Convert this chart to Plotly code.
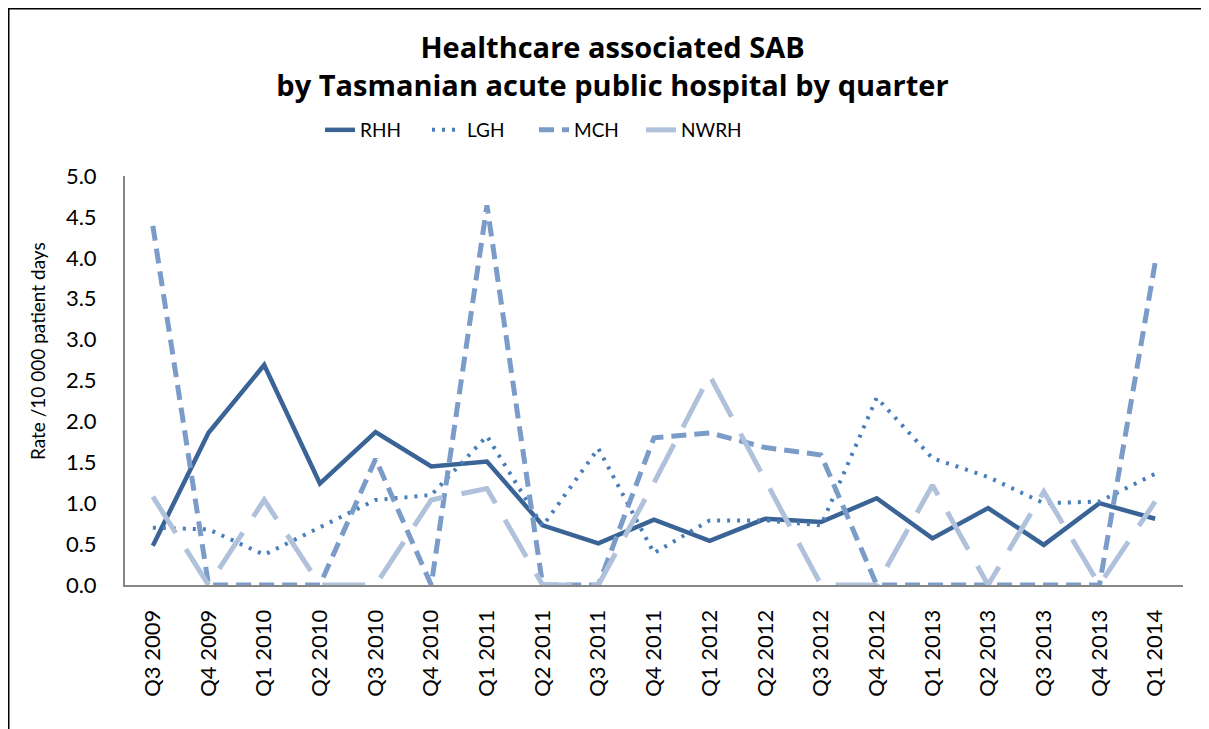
import plotly.graph_objects as go

quarters = ["Q3 2009", "Q4 2009", "Q1 2010", "Q2 2010", "Q3 2010", "Q4 2010",
            "Q1 2011", "Q2 2011", "Q3 2011", "Q4 2011", "Q1 2012", "Q2 2012",
            "Q3 2012", "Q4 2012", "Q1 2013", "Q2 2013", "Q3 2013", "Q4 2013",
            "Q1 2014"]

rhh = [0.48, 1.86, 2.69, 1.24, 1.87, 1.45, 1.51, 0.73, 0.51, 0.80, 0.54, 0.81,
       0.77, 1.06, 0.57, 0.94, 0.49, 1.00, 0.81]
lgh = [0.70, 0.68, 0.37, 0.71, 1.04, 1.10, 1.82, 0.72, 1.67, 0.39, 0.79, 0.79,
       0.73, 2.29, 1.55, 1.32, 1.00, 1.02, 1.36]
mch = [4.39, 0.0, 0.0, 0.0, 1.54, 0.0, 4.64, 0.0, 0.0, 1.80, 1.86, 1.68,
       1.59, 0.0, 0.0, 0.0, 0.0, 0.0, 3.94]
nwrh = [1.08, 0.0, 1.04, 0.0, 0.0, 1.04, 1.18, 0.0, 0.0, 1.25, 2.56, 1.28,
        0.0, 0.0, 1.22, 0.0, 1.14, 0.0, 1.02]

y_ticks = [0.0, 0.5, 1.0, 1.5, 2.0, 2.5, 3.0, 3.5, 4.0, 4.5, 5.0]

FONT = "Lato"
TFONT = "Open Sans"

fig = go.Figure()
fig.add_trace(go.Scatter(x=quarters, y=rhh, name="RHH", mode="lines",
                         line=dict(color="#3B6496", width=4.5)))
fig.add_trace(go.Scatter(x=quarters, y=lgh, name="LGH", mode="lines",
                         line=dict(color="#4A7EBB", width=4, dash="3px,7px")))
fig.add_trace(go.Scatter(x=quarters, y=mch, name="MCH", mode="lines",
                         line=dict(color="#7B9CC9", width=5, dash="15px,8px")))
fig.add_trace(go.Scatter(x=quarters, y=nwrh, name="NWRH", mode="lines",
                         line=dict(color="#B0C1DC", width=5, dash="43px,19px")))

OFF = 8  # page body margin
W, H = 1209, 729
# plot area in page pixels: x 125..1183, y 176..585
L = 125 - OFF
T = 176 - OFF
R = W - (1183 - OFF)
B = H - (585 - OFF)
pw, ph = W - L - R, H - T - B


def fx(p):
    """page pixel x -> paper fraction"""
    return (p - OFF - L) / pw


def fy(p):
    """page pixel y -> paper fraction"""
    return (H - B - (p - OFF)) / ph


fig.update_layout(
    width=W, height=H,
    margin=dict(l=L, r=R, t=T, b=B),
    paper_bgcolor="white", plot_bgcolor="white",
    font=dict(family=FONT, color="#000000"),
    title=dict(text="<b>Healthcare associated SAB<br>by Tasmanian acute public hospital by quarter</b>",
               x=0.5, xref="container", xanchor="center",
               y=1 - 50 / H, yref="container", yanchor="top",
               font=dict(size=29, family=TFONT, color="#000000")),
    legend=dict(orientation="h", x=fx(320), xanchor="left",
                y=fy(130), yanchor="middle",
                font=dict(size=19, family=FONT, color="#000000"),
                entrywidth=62, bgcolor="rgba(0,0,0,0)"),
    showlegend=True,
)

fig.update_xaxes(type="category", range=[-0.5, len(quarters) - 0.5],
                 showline=True, linecolor="#868686", linewidth=2,
                 showgrid=False, zeroline=False, ticks="",
                 tickangle=-90, tickfont=dict(size=22, family=FONT, color="#000000"),
                 ticklabelstandoff=14)
fig.update_yaxes(range=[0, 5], tickvals=y_ticks,
                 ticktext=[f"{v:.1f}" for v in y_ticks],
                 showline=True, linecolor="#868686", linewidth=2,
                 showgrid=False, zeroline=False, ticks="",
                 tickfont=dict(size=22, family=FONT, color="#000000"),
                 ticklabelstandoff=22)

fig.add_annotation(text="Rate /10 000 patient days", textangle=-90,
                   xref="paper", yref="paper", x=fx(37), y=fy(351),
                   xanchor="center", yanchor="middle", showarrow=False,
                   font=dict(size=19, family=FONT, color="#000000"))

# outer chart frame
fig.add_shape(type="rect", xref="paper", yref="paper",
              x0=fx(8), x1=fx(1204), y0=fy(760), y1=fy(8),
              line=dict(color="#000000", width=3), fillcolor="rgba(0,0,0,0)",
              layer="below")

fig.write_html("out.html")
